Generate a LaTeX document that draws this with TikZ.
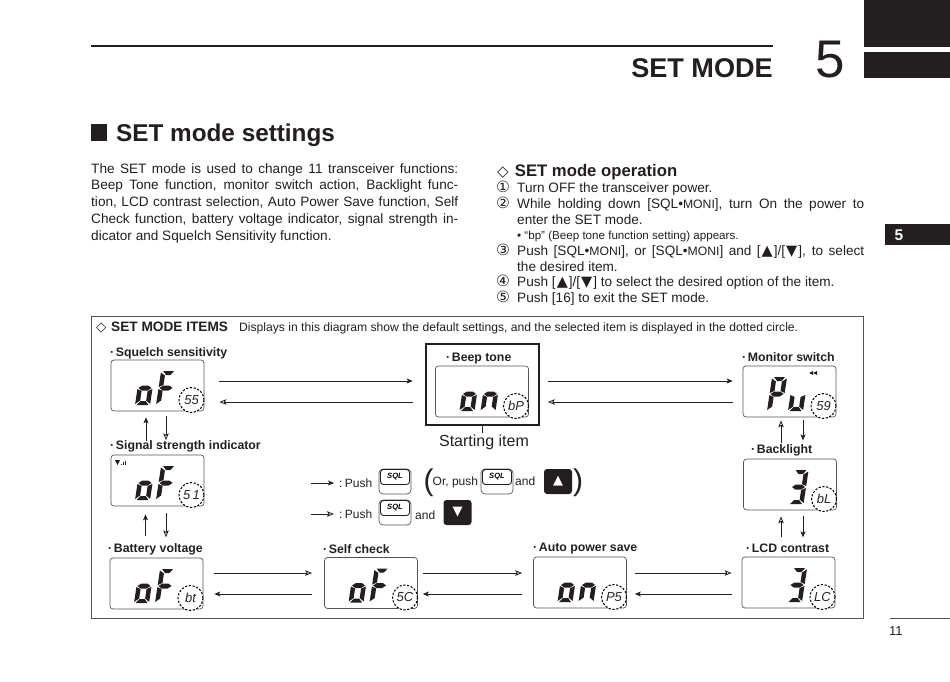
\documentclass[tikz,border=0pt]{standalone}
\usepackage{fontspec}
\setmainfont{Liberation Sans}
\newfontfamily\symfont{DejaVu Sans}
\usetikzlibrary{arrows.meta}
\definecolor{inkblack}{HTML}{231F20}
\definecolor{framegray}{HTML}{555555}
\newcommand\moni{{\fontsize{12.2}{12.2}\selectfont MONI}}
\newcommand\upkey{\kern1pt{\symfont\fontsize{14.5}{14.5}\selectfont ▲}\kern1pt}
\newcommand\dnkey{\kern1pt{\symfont\fontsize{14.5}{14.5}\selectfont ▼}\kern1pt}
\newcommand\circnum[1]{{\symfont\fontsize{15.5}{15.5}\selectfont #1}}
% LCD segments
\newcommand\lcdsega{\fill[inkblack] (2,-34)--(13,-34)--(10,-30)--(5.5,-30)--cycle;}
\newcommand\lcdsegb{\fill[inkblack] (15,-32.5)--(15,-18)--(10.5,-20)--(10.5,-29.5)--cycle;}
\newcommand\lcdsegc{\fill[inkblack] (15,-16)--(15,-1)--(10.5,-4.5)--(10.5,-14)--cycle;}
\newcommand\lcdsegd{\fill[inkblack] (1.5,0)--(13.5,0)--(10,-4)--(5,-4)--cycle;}
\newcommand\lcdsege{\fill[inkblack] (0,-16)--(4.5,-14)--(4.5,-4.5)--(0,-1)--cycle;}
\newcommand\lcdsegf{\fill[inkblack] (0,-32.5)--(4.5,-29.5)--(4.5,-20)--(0,-18)--cycle;}
\newcommand\lcdsegg{\fill[inkblack] (1,-17)--(4.5,-19.5)--(10.5,-19.5)--(14,-17)--(10.5,-14.5)--(4.5,-14.5)--cycle;}
\newcommand\lcdglyph[3]{\begin{scope}[shift={(#1.center)},xshift=#2pt,yshift=-19.5pt,xslant=.15]
  \foreach \seg in {#3} {\csname lcdseg\seg\endcsname}
\end{scope}}
% display panel: name, x, y, circled text
\newcommand\lcdpanel[4]{\node[lcdbox] (#1) at (#2,#3) {};
  \node[lcdtag] (#1tag) at ([xshift=34pt,yshift=-14.5pt]#1.center) {#4};}
\newcommand\sqlkey[3]{\node[keyouter] (#1) at (#2,#3) {};
  \node[keyinner] (#1top) at ([yshift=4.5pt]#1.center) {SQL};}
\begin{document}
\begin{tikzpicture}[x=1pt, y=-1pt,
    lcdbox/.style={draw=framegray, line width=.7pt, rounded corners=3pt, minimum width=93pt, minimum height=51pt, inner sep=0pt},
    lcdtag/.style={circle, draw=black, fill=white, line width=1pt, dash pattern=on 2.2pt off 1.6pt, minimum size=25pt, inner sep=0pt, font=\itshape\fontsize{13}{13}\selectfont, text=black!85},
    itemname/.style={anchor=base west, inner sep=0pt, font=\bfseries\fontsize{12.3}{12.3}\selectfont, text=inkblack},
    bodytext/.style={anchor=base west, inner sep=0pt, text=inkblack, font=\fontsize{13.6}{16.1}\selectfont},
    steptext/.style={bodytext, text width=347pt, align=justify},
    legend/.style={anchor=base west, inner sep=0pt, text=inkblack, font=\fontsize{12}{12}\selectfont},
    keyouter/.style={draw=framegray, line width=.7pt, rounded corners=4pt, minimum width=32pt, minimum height=25pt, inner sep=0pt},
    keyinner/.style={draw=inkblack, line width=.9pt, fill=white, rounded corners=3pt, minimum width=29pt, minimum height=15pt, inner sep=0pt, font=\bfseries\itshape\fontsize{7.6}{7.6}\selectfont},
    blackkey/.style={fill=inkblack, rounded corners=3pt, minimum width=28pt, minimum height=25pt, inner sep=0pt, text=white, font=\symfont\fontsize{13}{13}\selectfont},
    filledtip/.style={draw=inkblack, line width=.8pt, -{Stealth[length=6pt,width=5pt,inset=1.5pt]}},
    opentip/.style={draw=inkblack, line width=.8pt, -{Stealth[open,length=7pt,width=5.5pt,inset=1.5pt,fill=white]}}]
    \useasboundingbox (0,0) rectangle (950,682);

    % Page head
    \draw[inkblack, line width=1.8pt] (91,46) -- (773,46);
    \node[anchor=base east, inner sep=0pt, text=inkblack, font=\bfseries\fontsize{27.1}{27.1}\selectfont] (pagetitle) at (773,78) {SET MODE};
    \node[anchor=base, inner sep=0pt, text=inkblack, font=\fontsize{53}{53}\selectfont] (chapternum) at (830.5,78) {5};
    \fill[inkblack] (864,0) rectangle (950,47);
    \fill[inkblack] (864,52) rectangle (950,78);
    \fill[inkblack] (885,224) rectangle (950,245);
    \node[anchor=base, inner sep=0pt, text=white, font=\bfseries\fontsize{15.5}{15.5}\selectfont] (tabnum) at (899,240) {5};
    \draw[framegray, line width=.5pt] (890,618) -- (950,618);
    \node[anchor=base west, inner sep=0pt, text=inkblack, font=\fontsize{13}{13}\selectfont] (pagenum) at (889,635) {11};

    % Left text
    \fill[inkblack] (91,124) rectangle (107,141);
    \node[anchor=base west, inner sep=0pt, text=inkblack, font=\bfseries\fontsize{24.3}{24.3}\selectfont] (sectitle) at (116,142) {SET mode settings};
    \node[bodytext, text width=367pt, align=justify, font=\fontsize{13.6}{16.8}\selectfont] (intro) at (91,173) {The SET mode is used to change 11 transceiver functions:\linebreak
      Beep Tone function, monitor switch action, Backlight func-\linebreak
      tion, LCD contrast selection, Auto Power Save function, Self\linebreak
      Check function, battery voltage indicator, signal strength in-\linebreak
      dicator and Squelch Sensitivity function.};

    % Operation steps
    \node[anchor=base west, inner sep=0pt, text=inkblack, font=\bfseries\fontsize{16.7}{16.7}\selectfont] (ophead) at (497,176) {{\symfont\fontsize{15}{15}\selectfont ◇}\hspace{1.5pt} SET mode operation};
    \node[bodytext] (num1) at (496,192) {\circnum{①}};
    \node[steptext] (step1) at (517,192) {Turn OFF the transceiver power.};
    \node[bodytext] (num2) at (496,208) {\circnum{②}};
    \node[steptext] (step2) at (517,208) {While holding down [SQL•\moni], turn On the power to\linebreak enter the SET mode.};
    \node[anchor=base west, inner sep=0pt, text=inkblack, font=\fontsize{11.6}{11.6}\selectfont] (step2note) at (517,239) {• “bp” (Beep tone function setting) appears.};
    \node[bodytext] (num3) at (496,255) {\circnum{③}};
    \node[steptext] (step3) at (517,255) {Push [SQL•\moni], or [SQL•\moni] and [\upkey]/[\dnkey], to select\linebreak the desired item.};
    \node[bodytext] (num4) at (496,286.5) {\circnum{④}};
    \node[steptext] (step4) at (517,286.5) {Push [\upkey]/[\dnkey] to select the desired option of the item.};
    \node[bodytext] (num5) at (496,302) {\circnum{⑤}};
    \node[steptext] (step5) at (517,302) {Push [16] to exit the SET mode.};

    % Items frame
    \draw[framegray, line width=.9pt] (91,316) rectangle (863.5,618.5);
    \node[anchor=base west, inner sep=0pt, text=inkblack, font=\bfseries\fontsize{13.3}{13.3}\selectfont] (itemmark) at (96,331) {{\symfont ◇}};
    \node[anchor=base west, inner sep=0pt, text=inkblack, font=\bfseries\fontsize{13.65}{13.65}\selectfont] (itemhead) at (111,331) {SET MODE ITEMS};
    \node[anchor=base west, inner sep=0pt, text=inkblack, font=\fontsize{12.13}{12.13}\selectfont] (itemnote) at (239,331) {Displays in this diagram show the default settings, and the selected item is displayed in the dotted circle.};

    % Displays
    \lcdpanel{squelch}{157.5}{385.5}{55}
    \lcdglyph{squelch}{-22.5}{g,e,c,d}
    \lcdglyph{squelch}{-1.5}{a,f,g,e}
    \lcdpanel{signal}{157.5}{480.5}{5\,1}
    \lcdglyph{signal}{-22.5}{g,e,c,d}
    \lcdglyph{signal}{-1.5}{a,f,g,e}
    \lcdpanel{battery}{156.5}{583.5}{bt}
    \lcdglyph{battery}{-22.5}{g,e,c,d}
    \lcdglyph{battery}{-1.5}{a,f,g,e}
    \lcdpanel{selfcheck}{371}{583}{5C}
    \lcdglyph{selfcheck}{-22.5}{g,e,c,d}
    \lcdglyph{selfcheck}{-1.5}{a,f,g,e}
    \lcdpanel{autosave}{580}{582.5}{P5}
    \lcdglyph{autosave}{-22.5}{g,e,c,d}
    \lcdglyph{autosave}{-1.5}{g,e,c}
    \lcdpanel{contrast}{788.5}{582.5}{LC}
    \lcdglyph{contrast}{-1.5}{a,b,g,c,d}
    \lcdpanel{backlight}{790}{484.5}{bL}
    \lcdglyph{backlight}{-1.5}{a,b,g,c,d}
    \lcdpanel{monitor}{789.5}{391.5}{59}
    \lcdglyph{monitor}{-22.5}{a,b,g,f,e}
    \lcdglyph{monitor}{-1.5}{e,c,d}
    \lcdpanel{beep}{482}{391.5}{bP}
    \lcdglyph{beep}{-22.5}{g,e,c,d}
    \lcdglyph{beep}{-1.5}{g,e,c}

    % Small icons
    \fill[inkblack] (115,460) -- (120,460) -- (117.5,465) -- cycle;
    \fill[inkblack] (121,463.5) rectangle (122,465);
    \fill[inkblack] (123,462) rectangle (124,465);
    \fill[inkblack] (125,460.5) rectangle (126,465);
    \fill[inkblack] (809,373) -- (813,371) -- (813,375) -- cycle;
    \fill[inkblack] (813,373) -- (817,371) -- (817,375) -- cycle;

    % Item names
    \node[itemname] (squelchname) at (110,356) {·\kern1.6pt Squelch sensitivity};
    \node[itemname] (signalname) at (110,449) {·\kern1.6pt Signal strength indicator};
    \node[itemname] (batteryname) at (108,552) {·\kern1.6pt Battery voltage};
    \node[itemname] (selfname) at (323,553) {·\kern1.6pt Self check};
    \node[itemname] (savename) at (533,551) {·\kern1.6pt Auto power save};
    \node[itemname] (contrastname) at (746,552) {·\kern1.6pt LCD contrast};
    \node[itemname] (backlightname) at (751,453) {·\kern1.6pt Backlight};
    \node[itemname] (monitorname) at (742,361) {·\kern1.6pt Monitor switch};
    \node[itemname] (beepname) at (446,361) {·\kern1.6pt Beep tone};

    % Start box
    \node[draw=inkblack, line width=1.6pt, minimum width=113pt, minimum height=81pt, inner sep=0pt] (startbox) at (482.5,384.5) {};
    \node[anchor=base, inner sep=0pt, text=inkblack, font=\fontsize{16}{16}\selectfont] (startname) at (484,446.5) {Starting item};
    \draw[inkblack, line width=.8pt] (startbox.south) -- ([yshift=-7pt]startbox.south);

    % Connectors
    \draw[filledtip] ([xshift=15pt,yshift=4.5pt]squelch.east) -- ([xshift=-22.5pt,yshift=10.5pt]beep.west);
    \draw[opentip] ([xshift=-22.5pt,yshift=-10.5pt]beep.west) -- ([xshift=15pt,yshift=-16.5pt]squelch.east);
    \draw[filledtip] ([xshift=19pt,yshift=10.5pt]beep.east) -- ([xshift=-10pt,yshift=10.5pt]monitor.west);
    \draw[opentip] ([xshift=-10pt,yshift=-10.5pt]monitor.west) -- ([xshift=19pt,yshift=-10.5pt]beep.east);
    \draw[filledtip] ([xshift=-11.5pt,yshift=-30pt]squelch.south) -- ([xshift=-11.5pt,yshift=-6pt]squelch.south);
    \draw[opentip] ([xshift=8.5pt,yshift=-5pt]squelch.south) -- ([xshift=8.5pt,yshift=-29pt]squelch.south);
    \draw[filledtip] ([xshift=-12pt,yshift=-30pt]signal.south) -- ([xshift=-12pt,yshift=-8pt]signal.south);
    \draw[opentip] ([xshift=8.5pt,yshift=-7pt]signal.south) -- ([xshift=8.5pt,yshift=-31pt]signal.south);
    \draw[opentip] ([xshift=-8.5pt,yshift=-26pt]monitor.south) -- ([xshift=-8.5pt,yshift=-3pt]monitor.south);
    \draw[filledtip] ([xshift=13.5pt,yshift=-3pt]monitor.south) -- ([xshift=13.5pt,yshift=-23pt]monitor.south);
    \draw[opentip] ([xshift=-9pt,yshift=-27pt]backlight.south) -- ([xshift=-9pt,yshift=-6pt]backlight.south);
    \draw[filledtip] ([xshift=13pt,yshift=-6pt]backlight.south) -- ([xshift=13pt,yshift=-27pt]backlight.south);
    \draw[opentip] ([xshift=11pt,yshift=10.5pt]battery.east) -- ([xshift=-12pt,yshift=10pt]selfcheck.west);
    \draw[filledtip] ([xshift=-12pt,yshift=-11pt]selfcheck.west) -- ([xshift=11pt,yshift=-10.5pt]battery.east);
    \draw[opentip] ([xshift=5pt,yshift=10pt]selfcheck.east) -- ([xshift=-11pt,yshift=9.5pt]autosave.west);
    \draw[filledtip] ([xshift=-11pt,yshift=-11.5pt]autosave.west) -- ([xshift=5pt,yshift=-11pt]selfcheck.east);
    \draw[opentip] ([xshift=8pt,yshift=9.5pt]autosave.east) -- ([xshift=-10pt,yshift=9.5pt]contrast.west);
    \draw[filledtip] ([xshift=-10pt,yshift=-11.5pt]contrast.west) -- ([xshift=8pt,yshift=-11.5pt]autosave.east);

    % Legend
    \coordinate (fwdfrom) at (311,483);
    \coordinate (fwdto) at (334,483);
    \coordinate (backfrom) at (311,514);
    \coordinate (backto) at (334,514);
    \draw[filledtip] (fwdfrom) -- (fwdto);
    \draw[opentip] (backfrom) -- (backto);
    \node[legend] (pushfwd) at (339,487.5) {:\kern-1pt\ Push};
    \sqlkey{keyfwd}{395}{481.5}
    \node[anchor=base, inner sep=0pt, text=inkblack, font=\fontsize{30}{30}\selectfont] (openparen) at (428.5,490) {(};
    \node[legend] (orpush) at (432.5,485.5) {Or, push};
    \sqlkey{keyor}{497}{481.5}
    \node[legend] (andup) at (515,485.5) {and};
    \node[blackkey] (keyup) at (558,481.5) {▲};
    \node[anchor=base, inner sep=0pt, text=inkblack, font=\fontsize{30}{30}\selectfont] (closeparen) at (578,490) {)};
    \node[legend] (pushback) at (339,518.5) {:\kern-1pt\ Push};
    \sqlkey{keyback}{395}{512.5}
    \node[legend] (anddown) at (415,519) {and};
    \node[blackkey] (keydown) at (457.5,512.5) {▼};
\end{tikzpicture}
\end{document}
